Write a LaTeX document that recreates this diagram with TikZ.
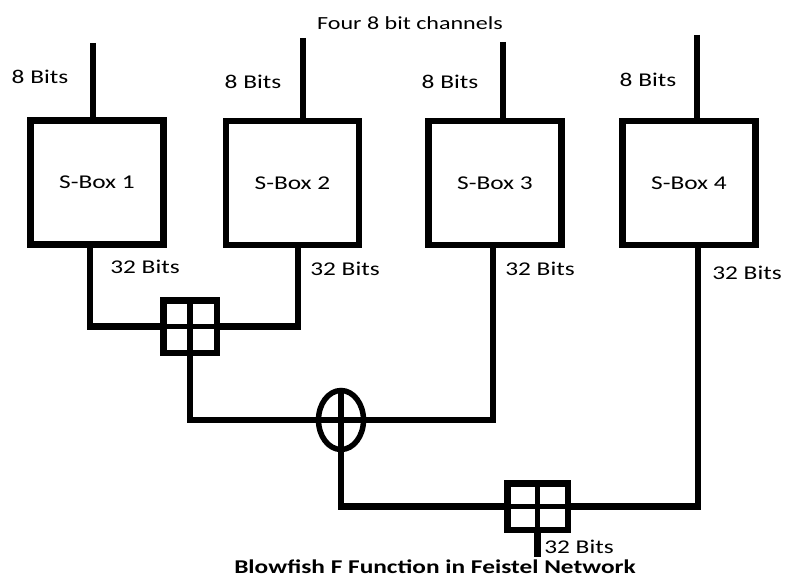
\documentclass[tikz,border=0pt]{standalone}
\usepackage{fontspec}
\setmainfont{Carlito}[FakeStretch=1.3]
\usetikzlibrary{shapes.geometric}

\begin{document}
\begin{tikzpicture}[x=1pt, y=-1pt, line width=6.5pt,
  every node/.style={font=\fontsize{19.5}{22}\selectfont},
  sbox/.style={draw, minimum width=133pt, minimum height=124pt, inner sep=0pt},
  adder/.style={draw, inner sep=0pt},
  xorop/.style={draw, ellipse, line width=5.5pt, minimum width=45pt, minimum height=59pt, inner sep=0pt}]
  \useasboundingbox (0,0) rectangle (785,578);
  % S-boxes
  \node[sbox] (sb1) at (97,182.5) {S-Box 1};
  \node[sbox] (sb2) at (292.5,183) {S-Box 2};
  \node[sbox] (sb3) at (495,183) {S-Box 3};
  \node[sbox] (sb4) at (689,183) {S-Box 4};
  % Four 8 bit inputs
  \node (title) at (410,23) {\fontsize{18.5}{20}\selectfont Four 8 bit channels};
  \coordinate (in1) at (93,43);
  \coordinate (in2) at (303,38);
  \coordinate (in3) at (503,42);
  \coordinate (in4) at (697,35);
  \draw (in1) -- (in1 |- sb1.north);
  \draw (in2) -- (in2 |- sb2.north);
  \draw (in3) -- (in3 |- sb3.north);
  \draw (in4) -- (in4 |- sb4.north);
  \node (b1) at (40,77) {8 Bits};
  \node (b2) at (253,82) {8 Bits};
  \node (b3) at (450,82) {8 Bits};
  \node (b4) at (648,80) {8 Bits};
  % Adders and XOR
  \node[adder, minimum width=53.5pt, minimum height=52.5pt] (add1) at (190,326.5) {};
  \node[xorop] (xor) at (341,420) {};
  \node[adder, minimum width=60.5pt, minimum height=46.5pt] (add2) at (537.5,506.5) {};
  \draw[line width=5.5pt] (add1.north) -- (add1.south) (add1.west) -- (add1.east);
  \draw[line width=5.5pt] (xor.north) -- (xor.south) (xor.west) -- (xor.east);
  \draw[line width=5.5pt] (add2.north) -- (add2.south) (add2.west) -- (add2.east);
  % 32 bit outputs
  \draw ([xshift=-7pt]sb1.south) |- (add1.west);
  \draw ([xshift=5.5pt]sb2.south) |- (add1.east);
  \draw (add1.south) |- (xor.west);
  \draw ([xshift=-2pt]sb3.south) |- (xor.east);
  \draw (xor.south) |- (add2.west);
  \draw ([xshift=9pt]sb4.south) |- (add2.east);
  \coordinate (out) at (537.5,557);
  \draw (add2.south) -- (out);
  \node (w1) at (145,267) {32 Bits};
  \node (w2) at (345,269) {32 Bits};
  \node (w3) at (540,269) {32 Bits};
  \node (w4) at (747,273) {32 Bits};
  \node (w5) at (579,547) {32 Bits};
  \node[font=\bfseries\fontsize{19.5}{22}\selectfont, inner sep=1pt] (caption) at (435,567) {Blowfish F Function in Feistel Network};
\end{tikzpicture}
\end{document}
